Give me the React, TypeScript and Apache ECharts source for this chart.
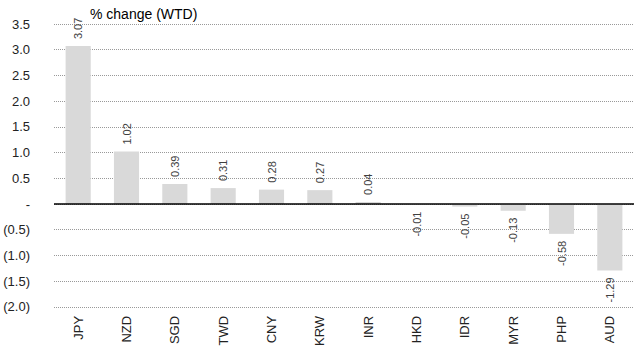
import React, { useEffect, useRef } from "react";
import * as echarts from "echarts";

const categories = ["JPY", "NZD", "SGD", "TWD", "CNY", "KRW", "INR", "HKD", "IDR", "MYR", "PHP", "AUD"];
const values = [3.07, 1.02, 0.39, 0.31, 0.28, 0.27, 0.04, -0.01, -0.05, -0.13, -0.58, -1.29];
const title = "% change (WTD)";

export default function App() {
  const ref = useRef<HTMLDivElement>(null);
  useEffect(() => {
    const chart = echarts.init(ref.current!, null, { renderer: "svg" });
    const font = "Arial, 'Liberation Sans', sans-serif";
    chart.setOption({
      animation: false,
      title: {
        text: title,
        left: 85,
        top: 2,
        textStyle: { fontFamily: font, fontSize: 14, fontWeight: "normal", color: "#000" },
      },
      grid: { left: 54, right: 1, top: 24, bottom: 40 },
      xAxis: {
        type: "category",
        data: categories,
        axisLine: { show: false },
        axisTick: { show: false },
        axisLabel: {
          rotate: 90,
          margin: 9,
          fontFamily: font,
          fontSize: 13,
          color: "#222",
          interval: 0,
        },
      },
      yAxis: {
        type: "value",
        min: -2,
        max: 3.5,
        interval: 0.5,
        axisLine: { show: false },
        axisTick: { show: false },
        splitLine: { lineStyle: { type: [1, 1], color: "#999", width: 1 } },
        axisLabel: {
          margin: 24,
          fontFamily: font,
          fontSize: 13,
          color: "#222",
          formatter: (v: number) => {
            if (Math.abs(v) < 1e-9) return "-";
            if (v < 0) return "(" + Math.abs(v).toFixed(1) + ")";
            return v.toFixed(1);
          },
        },
      },
      series: [
        {
          type: "bar",
          data: values.map((v) => ({
            value: v,
            label: v >= 0
              ? { position: "top", rotate: 90, align: "left", verticalAlign: "middle", distance: 7 }
              : { position: "bottom", rotate: 90, align: "right", verticalAlign: "middle", distance: 7 },
          })),
          barWidth: "52%",
          itemStyle: { color: "#d9d9d9" },
          label: {
            show: true,
            fontFamily: font,
            fontSize: 11,
            color: "#404040",
            formatter: (p: any) => p.value.toFixed(2),
          },
          markLine: {
            silent: true,
            symbol: "none",
            label: { show: false },
            lineStyle: { color: "#000", type: "solid", width: 1.5 },
            data: [{ yAxis: 0 }],
          },
        },
      ],
    });
    return () => chart.dispose();
  }, []);
  return <div ref={ref} style={{ position: "absolute", left: 0, top: 0, width: 635, height: 349 }} />;
}
